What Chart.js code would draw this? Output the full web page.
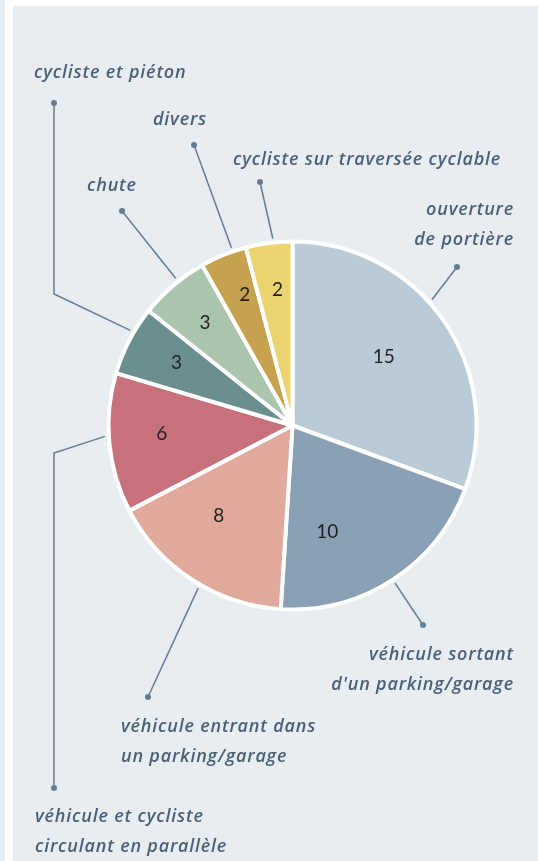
<!DOCTYPE html>
<html lang="fr">
<head>
<meta charset="utf-8">
<title>Types de collisions</title>
<script src="https://cdn.jsdelivr.net/npm/chart.js@4"></script>
<style>
  html, body { margin: 0; padding: 0; background: #ffffff; }
  body { width: 539px; height: 861px; position: relative; overflow: hidden; }
  #strip { position: absolute; left: 0; top: 0; width: 5px; height: 861px; background: #e8edf2; }
  #panel { position: absolute; left: 13px; top: 6px; width: 525px; height: 855px; background: #e8edf2; }
  #camembert { position: absolute; left: 0; top: 0; }
</style>
</head>
<body>
<div id="strip"></div>
<div id="panel"></div>
<canvas id="camembert" width="539" height="861"></canvas>
<script>
// catégories dans l'ordre horaire depuis midi
const categories = [
	["ouverture", "de portière"],
	["véhicule sortant", "d'un parking/garage"],
	["véhicule entrant dans", "un parking/garage"],
	["véhicule et cycliste", "circulant en parallèle"],
	["cycliste et piéton"],
	["chute"],
	["divers"],
	["cycliste sur traversée cyclable"]
];
const valeurs = [15, 10, 8, 6, 3, 3, 2, 2];
const couleurs = ["#b9cbd7", "#8aa1b5", "#e0a99c", "#c6717b", "#6b8f8e", "#abc4ad", "#c6a24f", "#ebd46f"];

// placement des chiffres dans les parts : décalage d'angle (deg) et distance au centre
const placeChiffres = [
	{ da: -2, d: 114 },
	{ da: 15, d: 112 },
	{ da: 6, d: 117 },
	{ da: 2, d: 131 },
	{ da: 1, d: 132 },
	{ da: 0, d: 135 },
	{ da: 2, d: 139 },
	{ da: 1, d: 136 }
];

// renvois : point de départ (fraction de la part), coudes, puis texte
const renvois = [
	{ t: 0.435, pts: [[457, 267]], tx: 514, ty: 210, align: "right" },
	{ t: 0.50, pts: [[423, 625]], tx: 514, ty: 655, align: "right" },
	{ t: 0.45, pts: [[148, 697]], tx: 121, ty: 727, align: "left" },
	{ t: 0.55, pts: [[54, 453], [54, 788]], tx: 35, ty: 817, align: "left" },
	{ t: 0.63, pts: [[54, 294], [54, 103]], tx: 34, ty: 73, align: "left" },
	{ t: 0.59, pts: [[122, 211]], tx: 87, ty: 186, align: "left" },
	{ t: 0.71, pts: [[194, 145]], tx: 153, ty: 120, align: "left" },
	{ t: 0.59, pts: [[260, 182]], tx: 233, ty: 160, align: "left" }
];

const pluginRenvois = {
	id: "renvois",
	afterDatasetsDraw(chart) {
		const ctx = chart.ctx;
		const meta = chart.getDatasetMeta(0);
		ctx.save();
		meta.data.forEach((arc, i) => {
			// chiffre dans la part
			const p = placeChiffres[i];
			const mid = (arc.startAngle + arc.endAngle) / 2 + p.da * Math.PI / 180;
			ctx.letterSpacing = "0px";
			ctx.fillStyle = "#222222";
			ctx.font = "19px Lato";
			ctx.textAlign = "center";
			ctx.textBaseline = "middle";
			ctx.fillText(String(valeurs[i]), arc.x + p.d * Math.cos(mid), arc.y + p.d * Math.sin(mid));

			// trait de renvoi
			const r = renvois[i];
			const a = arc.startAngle + r.t * (arc.endAngle - arc.startAngle);
			const r0 = arc.outerRadius + 4;
			ctx.strokeStyle = "#627d94";
			ctx.lineWidth = 1.5;
			ctx.beginPath();
			ctx.moveTo(arc.x + r0 * Math.cos(a), arc.y + r0 * Math.sin(a));
			r.pts.forEach(pt => ctx.lineTo(pt[0], pt[1]));
			ctx.stroke();
			const fin = r.pts[r.pts.length - 1];
			ctx.fillStyle = "#627d94";
			ctx.beginPath();
			ctx.arc(fin[0], fin[1], 3, 0, Math.PI * 2);
			ctx.fill();

			// libellé
			ctx.fillStyle = "#4b6178";
			ctx.font = "italic 600 18px 'Open Sans'";
			ctx.letterSpacing = "0.8px";
			ctx.textAlign = r.align;
			categories[i].forEach((ligne, k) => {
				ctx.fillText(ligne, r.tx, r.ty + k * 30);
			});
		});
		ctx.restore();
	}
};

new Chart(document.getElementById("camembert"), {
	type: "pie",
	data: {
		labels: categories,
		datasets: [{
			data: valeurs,
			backgroundColor: couleurs,
			borderColor: "#ffffff",
			borderWidth: 4,
			radius: 184
		}]
	},
	options: {
		responsive: false,
		animation: false,
		layout: { padding: { left: 46, right: 0, top: 0, bottom: 10 } },
		plugins: {
			legend: { display: false },
			tooltip: { enabled: false }
		}
	},
	plugins: [pluginRenvois]
});
</script>
</body>
</html>
